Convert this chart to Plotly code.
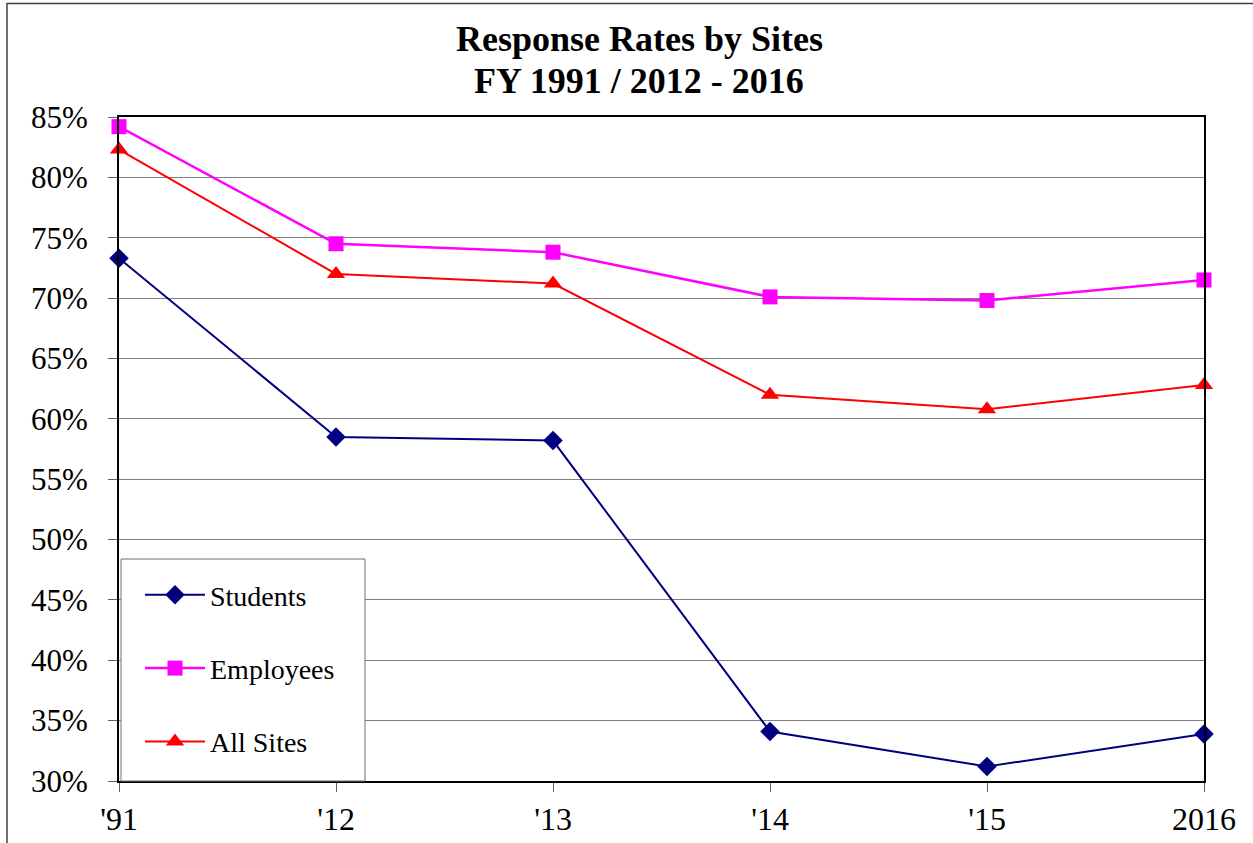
import plotly.graph_objects as go

categories = ["'91", "'12", "'13", "'14", "'15", "2016"]
students = [73.3, 58.5, 58.2, 34.1, 31.2, 33.9]
employees = [84.2, 74.5, 73.8, 70.1, 69.8, 71.5]
all_sites = [82.3, 72.0, 71.2, 62.0, 60.8, 62.8]
y_ticks = [30, 35, 40, 45, 50, 55, 60, 65, 70, 75, 80, 85]
y_tick_labels = [f"{v}%" for v in y_ticks]
title_lines = ["Response Rates by Sites", "FY 1991 / 2012 - 2016"]

FONT = "Liberation Serif, serif"
W, H = 1253, 843
L, R, T, B = 119, 1204, 117, 781

def px(x):
    return (x - L) / (R - L)

def py(y):
    return (B - y) / (B - T)

fig = go.Figure()
fig.add_trace(go.Scatter(x=categories, y=students, name="Students", mode="lines+markers",
                         line=dict(color="#000080", width=2),
                         marker=dict(symbol="diamond", size=15, color="#000080"),
                         cliponaxis=False, legendgroup="a"))
fig.add_trace(go.Scatter(x=categories, y=employees, name="Employees", mode="lines+markers",
                         line=dict(color="#FF00FF", width=2.5),
                         marker=dict(symbol="square", size=15, color="#FF00FF"),
                         cliponaxis=False, legendgroup="b"))
fig.add_trace(go.Scatter(x=categories, y=all_sites, name="All Sites", mode="lines+markers",
                         line=dict(color="#FF0000", width=2),
                         marker=dict(symbol="triangle-up", size=16, color="#FF0000"),
                         cliponaxis=False, legendgroup="c"))

# legend box
fig.add_shape(type="rect", xref="paper", yref="paper",
              x0=px(121), x1=px(365), y0=py(781), y1=py(559),
              line=dict(color="#707070", width=1), fillcolor="white", layer="above")
# outer frame
fig.add_shape(type="line", xref="paper", yref="paper", x0=px(7), x1=px(7), y0=py(3), y1=py(860),
              line=dict(color="#404040", width=1.5))
fig.add_shape(type="line", xref="paper", yref="paper", x0=px(7), x1=px(1270), y0=py(3.5), y1=py(3.5),
              line=dict(color="#404040", width=1.5))

for line, ypix in zip(title_lines, [39, 81]):
    fig.add_annotation(text=f"<b>{line}</b>", xref="paper", yref="paper",
                       x=px(639), y=py(ypix), xanchor="center", yanchor="middle",
                       showarrow=False, font=dict(family=FONT, size=36, color="black"))

fig.update_layout(
    width=W, height=H,
    margin=dict(l=L, r=W - R, t=T, b=H - B, autoexpand=False),
    paper_bgcolor="white", plot_bgcolor="white",
    font=dict(family=FONT, color="black", size=28),
    showlegend=True,
    legend=dict(x=px(140), y=py(570), xanchor="left", yanchor="top",
                bgcolor="rgba(0,0,0,0)", borderwidth=0,
                tracegroupgap=34, itemwidth=60,
                font=dict(family=FONT, size=28, color="black")),
    xaxis=dict(type="category", range=[0, 5], showgrid=False, automargin=False,
               showline=True, linecolor="black", linewidth=2, mirror=True,
               ticks="outside", ticklen=9, tickcolor="#606060", tickwidth=1,
               tickfont=dict(family=FONT, size=32, color="black")),
    yaxis=dict(range=[30, 85], tickmode="array", tickvals=y_ticks, ticktext=y_tick_labels,
               showgrid=True, gridcolor="#808080", gridwidth=1, automargin=False,
               showline=True, linecolor="black", linewidth=2, mirror=True,
               ticks="outside", ticklen=9, tickcolor="#606060", tickwidth=1,
               ticklabelstandoff=14,
               tickfont=dict(family=FONT, size=31, color="black"), zeroline=False),
)

fig.write_html("out.html", config={"displayModeBar": False},
               post_script="document.body.style.margin='0';document.body.style.padding='0';")
